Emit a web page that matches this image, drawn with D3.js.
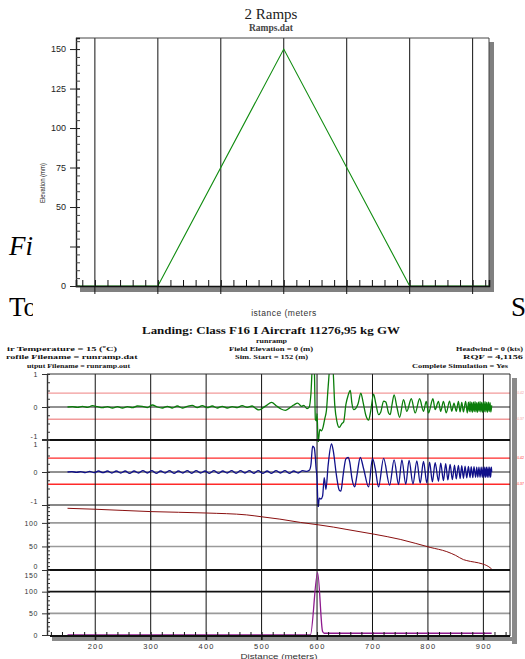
<!DOCTYPE html>
<html>
<head>
<meta charset="utf-8">
<script src="https://cdn.jsdelivr.net/npm/d3@7/dist/d3.min.js"></script>
<style>
  body { margin: 0; background: #fff; }
  svg { display: block; }
</style>
</head>
<body>
<script>
// ---------- data ----------

// upper chart: ramp profile (distance m, elevation mm)
var rampDist = [-15, 50, 150, 250, 313];
var rampElev = [0, 0, 150, 0, 0];
var rampGrid = [0, 50, 100, 150, 200, 250, 300];
var rampYTicks = [0, 25, 50, 75, 100, 125, 150];
var rampYLabels = [0, 50, 75, 100, 125, 150];

// lower chart: landing simulation, distance in metres
var distTicks = [200, 300, 400, 500, 600, 700, 800, 900];

// panel 1 (green) – [distance, value]
var greenTrace = [
  [150,0],[159,0.01],[168,-0.01],[177,0.02],[186,-0.01],[195,0.04],[204,0.01],[213,-0.02],
  [222,0.01],[231,-0.03],[240,0.01],[249,-0.03],[258,0.01],[267,-0.02],[276,0.03],[285,0.02],
  [294,-0.02],[303,0.06],[312,0],[321,-0.03],[330,0.02],[339,-0.03],[348,0.03],[357,-0.03],
  [366,0.02],[375,0.05],[384,-0.02],[393,0.04],[402,-0.02],[411,0.03],[420,-0.03],[429,0.02],
  [438,-0.03],[447,0.01],[456,-0.02],[465,0.04],[474,-0.01],[483,0.03],[490,-0.05],[495,-0.09],
  [503,-0.02],[509,0.05],[518,0.14],[527,0.03],[535,-0.06],[543,-0.1],[551,-0.02],[558,0.06],
  [565,0.12],[572,0.02],[576,0.05],[582,-0.05],[586,0],[589,0.4],[592,1.3],[595,1.2],
  [597,-0.38],[599,-0.42],[600,-0.2],[602,-1.08],[605,-0.68],[608,-0.72],[611,-0.6],[614,-0.35],
  [617,-0.1],[620,0.6],[624,1.3],[628,1.3],[632,0.05],[636,-0.45],[640,-0.62],[645,-0.5],
  [648,-0.45],[652,0.07],[656,0.35],[660,0.5],[663,0.1],[666,-0.08],[670,-0.04],[674,0.1],
  [679,0.42],[683,0.15],[688,-0.25],[693,-0.4],[697,-0.1],[702,0.39],[706,0.1],[711,-0.23],
  [715,-0.15],[720,0.18],[724,0.15],[729,-0.18],[732,-0.23],[735,0.05],[739,0.37],[744,0],
  [749,-0.31],[756,0.22],[762,-0.13],[770,0.25],[777,-0.18],[785,0.25],[792,-0.13],[797,0.17],
  [801,-0.18],[809,0.25],[813,-0.08],[819,0.17],[823,-0.13],[828,0.17],[833,-0.18],[839,0.18],
  [843,-0.13],[847,0.12],[851,-0.13],[855,0.17],[858,-0.15],[861,0.14],[864,-0.15],[868,0.17],
  [871,-0.18],[873,0.15],[874.5,-0.14],[876,0.16],[877.5,-0.15],[879,0.14],[880.5,-0.16],
  [882,0.15],[883.5,-0.14],[885,0.16],[886.5,-0.15],[888,0.13],[889.5,-0.16],[891,0.15],
  [892.5,-0.13],[894,0.16],[895.5,-0.15],[897,0.14],[898.5,-0.16],[900,0.15],[901.5,-0.14],
  [903,0.16],[904.5,-0.15],[906,0.14],[907.5,-0.16],[909,0.15],[910.5,-0.14],[912,0.13],
  [913.5,-0.15],[915,0.05]
];

// panel 2 (blue)
var blueTrace = [
  [150,0],[158,0.01],[166,-0.01],[174,0.01],[182,-0.02],[190,0.02],[198,-0.02],[206,0.03],
  [214,-0.02],[222,0.03],[230,-0.03],[238,0.03],[246,-0.03],[254,0.03],[262,-0.04],[270,0.03],
  [278,-0.03],[286,0.04],[294,-0.03],[302,0.04],[310,-0.04],[318,0.03],[326,-0.03],[334,0.04],
  [342,-0.04],[350,0.03],[358,-0.03],[366,0.04],[374,-0.04],[382,0.04],[390,-0.03],[398,0.03],
  [406,-0.04],[414,0.04],[422,-0.04],[430,0.03],[438,-0.03],[446,0.04],[454,-0.04],[462,0.04],
  [470,-0.03],[478,0.04],[486,-0.04],[494,0.04],[502,-0.04],[510,0.03],[518,-0.04],[526,0.04],
  [534,-0.03],[542,0.04],[550,-0.04],[558,0.03],[566,-0.03],[574,0.04],[582,0.02],
  [586,0.05],[589,0.22],[592,0.78],[595,0.73],[597,0.42],[598,0.17],[600,-0.2],[602,-1.09],
  [604,-0.79],[607,-0.82],[610,-0.73],[613,-0.17],[616,-0.53],[620,0.2],[626,0.85],[629,0.67],
  [635,-0.1],[640,-0.55],[643,-0.58],[647,-0.1],[652,0.4],[656,0.44],[659,0.3],[663,-0.2],
  [668,-0.45],[672,-0.1],[678,0.44],[684,0.1],[693,-0.45],[700,0.41],[705,0.1],[711,-0.45],
  [720,0.41],[731,-0.4],[739,0.37],[747,-0.38],[753,0.37],[760,-0.37],[766,0.35],[773,-0.36],
  [780,0.34],[786,-0.34],[792,0.32],[798,-0.33],[803,0.3],[808,-0.3],[813,0.28],[819,-0.28],
  [823,0.27],[828,-0.26],[832,0.25],[836,-0.24],[840,0.23],[844,-0.23],[848,0.21],[851,-0.21],
  [855,0.2],[858,-0.2],[861,0.19],[864,-0.19],[867,0.18],[870,-0.18],[873,0.17],[876,-0.17],
  [878,0.16],[881,-0.17],[883,0.16],[886,-0.16],[888,0.15],[890,-0.16],[892,0.15],[894,-0.16],
  [896,0.15],[898,-0.16],[899.5,0.15],[901,-0.16],[902.5,0.15],[904,-0.16],[905.5,0.15],
  [907,-0.16],[908.5,0.15],[910,-0.16],[911.5,0.15],[913,-0.16],[914.5,0.15],[915,0]
];

// panel 3 (dark red) – speed
var speedTrace = [
  [150,131],[200,129],[300,124],[400,121],[473,117],[500,113],[533,108],[570,101],[602,96],
  [630,91],[654,86],[703,76],[750,65],[804,48],[834,39],[850,31],[864,22],[870,20],[898,13],
  [905,10],[912,5],[915,2]
];

// panel 4 (purple) – elevation under the wheels
var elevTrace = [[150,0],[588,0],[601,144],[610,8],[613,4],[915,4]];

// threshold lines in panels 1 and 2
var limitHi = 0.42, limitLo = -0.37;

// header texts
var titleLow = "Landing: Class F16 I Aircraft 11276,95 kg GW";
var headLeft = ["ir Temperature = 15 (\u00BAC)", "rofile Filename = runramp.dat", "utput Filename = runramp.out"];
var headMid = ["runramp", "Field Elevation = 0 (m)", "Sim. Start = 152 (m)"];
var headRight = ["Headwind = 0 (kts)", "RQF = 4,1156", "Complete Simulation = Yes"];

// ---------- page ----------
var W = 525, H = 659;
var serif = "'Liberation Serif', 'Times New Roman', serif";
var sans = "'Liberation Sans', Arial, sans-serif";

var svg = d3.select('body').append('svg')
    .attr('width', W)
    .attr('height', H);

var defs = svg.append('defs');

// document text peeking out behind the chart images
defs.append('clipPath').attr('id', 'docClip')
  .append('rect').attr('x', 0).attr('y', 0).attr('width', 33).attr('height', H);

var doc = svg.append('g').attr('clip-path', 'url(#docClip)');
doc.append('text').attr('x', 9).attr('y', 255)
    .style('font-family', serif).style('font-style', 'italic').style('font-size', '27px')
    .text('Fi');
doc.append('text').attr('x', 9).attr('y', 316)
    .style('font-family', serif).style('font-size', '27px')
    .text('To');
svg.append('text').attr('x', 511).attr('y', 316)
    .style('font-family', serif).style('font-size', '27px')
    .text('S');

// ================= upper chart: 2 Ramps =================
var rb = {left: 76, right: 489, top: 38, bottom: 286};

var xR = d3.scaleLinear().domain([-15, 313]).range([rb.left, rb.right]);
var yR = d3.scaleLinear().domain([0, 157]).range([rb.bottom, rb.top]);

var up = svg.append('g');

// drop shadow
up.append('rect').attr('x', rb.right).attr('y', rb.top + 4)
    .attr('width', 5).attr('height', rb.bottom - rb.top + 2).attr('fill', '#808080');
up.append('rect').attr('x', rb.left + 4).attr('y', rb.bottom)
    .attr('width', rb.right - rb.left + 1).attr('height', 6).attr('fill', '#808080');

// vertical grid
up.append('g').selectAll('line')
    .data(rampGrid)
    .enter()
    .append('line')
    .attr('x1', function(d) { return xR(d); })
    .attr('x2', function(d) { return xR(d); })
    .attr('y1', rb.top)
    .attr('y2', rb.bottom + 8)
    .attr('stroke', '#111')
    .attr('stroke-width', 1);

// frame top / right
up.append('line').attr('x1', rb.left).attr('x2', rb.right).attr('y1', rb.top).attr('y2', rb.top)
    .attr('stroke', '#444');
up.append('line').attr('x1', rb.right).attr('x2', rb.right).attr('y1', rb.top).attr('y2', rb.bottom)
    .attr('stroke', '#444');

// the ramp
var rampLine = d3.line()
    .x(function(d, i) { return xR(rampDist[i]); })
    .y(function(d) { return yR(d); });

up.append('path')
    .datum(rampElev)
    .attr('d', rampLine)
    .attr('fill', 'none')
    .attr('stroke', '#108c10')
    .attr('stroke-width', 1.1);

// x axis: minor ticks pointing up
up.append('g')
    .attr('transform', 'translate(0,' + rb.bottom + ')')
    .call(d3.axisTop(xR).tickValues(d3.range(-10, 313, 10)).tickSize(6).tickFormat(''))
    .call(function(g) {
        g.select('.domain').attr('stroke', '#111').attr('stroke-width', 1.6);
        g.selectAll('.tick line').attr('stroke', '#111');
    });

// y axis
up.append('g')
    .attr('transform', 'translate(' + rb.left + ',0)')
    .call(d3.axisRight(yR).tickValues(d3.range(0, 158, 5)).tickSize(4).tickFormat(''))
    .call(function(g) {
        g.select('.domain').attr('stroke', '#222').attr('stroke-width', 1.4);
        g.selectAll('.tick line').attr('stroke', '#444');
    });

up.append('g')
    .attr('transform', 'translate(' + rb.left + ',0)')
    .call(d3.axisLeft(yR).tickValues(rampYTicks).tickSize(6).tickSizeOuter(0)
        .tickFormat(function(d) { return rampYLabels.indexOf(d) >= 0 ? d : ''; }))
    .call(function(g) {
        g.select('.domain').remove();
        g.selectAll('.tick line').attr('stroke', '#222').attr('x2', -6).attr('x1', 4);
        g.selectAll('.tick text')
            .attr('x', -10)
            .style('font-family', sans)
            .style('font-size', '9px')
            .style('fill', '#222');
    });

// titles
up.append('text').attr('x', 271).attr('y', 18.5).attr('text-anchor', 'middle')
    .style('font-family', serif).style('font-size', '15px').style('fill', '#222')
    .text('2 Ramps');
up.append('text').attr('x', 271).attr('y', 30.5).attr('text-anchor', 'middle')
    .style('font-family', serif).style('font-size', '9.5px').style('font-weight', 'bold').style('fill', '#444')
    .text('Ramps.dat');

up.append('text')
    .attr('transform', 'translate(45,183) rotate(-90)')
    .attr('text-anchor', 'middle')
    .attr('textLength', 40).attr('lengthAdjust', 'spacingAndGlyphs')
    .style('font-family', sans).style('font-size', '8px').style('fill', '#222')
    .text('Elevation (mm)');

up.append('text').attr('x', 284).attr('y', 316).attr('text-anchor', 'middle')
    .style('font-family', sans).style('font-size', '8.5px').style('fill', '#333')
    .style('letter-spacing', '0.5px')
    .text('istance (meters');

// ================= lower chart: landing simulation =================
var lb = {left: 47, right: 510, top: 374, bottom: 636};
var x = d3.scaleLinear().domain([113, 948]).range([lb.left, lb.right]);

var low = svg.append('g');

// title block
low.append('text').attr('x', 271).attr('y', 334).attr('text-anchor', 'middle')
    .attr('textLength', 258).attr('lengthAdjust', 'spacingAndGlyphs')
    .style('font-family', serif).style('font-weight', 'bold').style('font-size', '11px').style('fill', '#111')
    .text(titleLow);

var headFont = function(sel) {
    sel.style('font-family', serif).style('font-weight', 'bold')
       .style('font-size', '7px').style('fill', '#111')
       .attr('lengthAdjust', 'spacingAndGlyphs');
};
var leftX = [7, 6, 27], leftW = [110, 131.5, 103];
var midX = [256, 229, 235], midW = [31, 84, 73];
var rightX = [456, 463, 412], rightW = [67, 60, 96];
var rowY = [350.5, 359, 367.5];

headLeft.forEach(function(t, i) {
    low.append('text').attr('x', leftX[i]).attr('y', rowY[i]).attr('textLength', leftW[i]).call(headFont).text(t);
});
headMid.forEach(function(t, i) {
    low.append('text').attr('x', midX[i]).attr('y', i === 0 ? 343 : rowY[i - 1])
        .attr('textLength', midW[i]).call(headFont).text(t);
});
headRight.forEach(function(t, i) {
    low.append('text').attr('x', rightX[i]).attr('y', rowY[i]).attr('textLength', rightW[i]).call(headFont).text(t);
});

// panels
var panels = [
    {y: d3.scaleLinear().domain([-1, 1]).range([440, 374]), grid: [0], minor: 0.25, data: greenTrace, color: '#0a7d0a', width: 1.3, limits: '#f29a9a'},
    {y: d3.scaleLinear().domain([-1, 1]).range([505, 439]), grid: [0], minor: 0.25, data: blueTrace, color: '#10108a', width: 1.3, limits: '#ff2a2a'},
    {y: d3.scaleLinear().domain([0, 138]).range([570, 505]), grid: [50, 100], minor: 50 / 6, data: speedTrace, color: '#8a1010', width: 1, limits: null},
    {y: d3.scaleLinear().domain([0, 150]).range([635, 570]), grid: [50, 100], minor: 10, data: elevTrace, color: '#8e1a8e', width: 1.3, limits: null}
];
var panelTicks = [[-1, 0, 1], [-1, 0, 1], [0, 50, 100], [0, 50, 100, 150]];

// shadow of the lower chart
low.append('rect').attr('x', lb.right + 2).attr('y', lb.top + 4)
    .attr('width', 5).attr('height', lb.bottom - lb.top + 4).attr('fill', '#8a8a8a');
low.append('rect').attr('x', lb.left + 5).attr('y', lb.bottom + 1)
    .attr('width', lb.right - lb.left + 2).attr('height', 4).attr('fill', '#8a8a8a');

// horizontal grid
panels.forEach(function(p, i) {
    low.append('g').selectAll('line')
        .data(p.grid)
        .enter()
        .append('line')
        .attr('x1', lb.left).attr('x2', lb.right)
        .attr('y1', function(d) { return p.y(d); })
        .attr('y2', function(d) { return p.y(d); })
        .attr('stroke', function(d) {
            if (i === 3 && d === 100) return '#111';
            return i < 2 ? '#222' : '#9a9a9a';
        })
        .attr('stroke-width', i < 2 ? 1 : 1.6);

    if (p.limits) {
        low.append('g').selectAll('line')
            .data([limitHi, limitLo])
            .enter()
            .append('line')
            .attr('x1', lb.left).attr('x2', lb.right)
            .attr('y1', function(d) { return p.y(d); })
            .attr('y2', function(d) { return p.y(d); })
            .attr('stroke', p.limits)
            .attr('stroke-width', 1.4);
        low.append('g').selectAll('text')
            .data([limitHi, limitLo])
            .enter()
            .append('text')
            .attr('x', 524)
            .attr('y', function(d) { return p.y(d) + 1; })
            .attr('text-anchor', 'end')
            .style('font-family', sans).style('font-size', '3.5px').style('fill', p.limits)
            .text(function(d) { return d.toFixed(2); });
    }
});

// vertical grid
low.append('g').selectAll('line')
    .data(distTicks)
    .enter()
    .append('line')
    .attr('x1', function(d) { return x(d); })
    .attr('x2', function(d) { return x(d); })
    .attr('y1', lb.top)
    .attr('y2', lb.bottom + 4)
    .attr('stroke', '#111')
    .attr('stroke-width', 1);

// traces, each clipped to its band
panels.forEach(function(p, i) {
    var r = p.y.range();
    defs.append('clipPath').attr('id', 'band' + i)
        .append('rect')
        .attr('x', lb.left).attr('y', r[1])
        .attr('width', lb.right - lb.left).attr('height', r[0] - r[1] + 2);

    var line = d3.line()
        .curve(d3.curveMonotoneX)
        .x(function(d) { return x(d[0]); })
        .y(function(d) { return p.y(d[1]); });

    low.append('path')
        .datum(p.data)
        .attr('clip-path', 'url(#band' + i + ')')
        .attr('d', line)
        .attr('fill', 'none')
        .attr('stroke', p.color)
        .attr('stroke-width', p.width)
        .attr('stroke-linejoin', 'round');
});

// frame: top, right, panel separators
low.append('line').attr('x1', lb.left).attr('x2', lb.right).attr('y1', lb.top).attr('y2', lb.top)
    .attr('stroke', '#333').attr('stroke-width', 1.2);
low.append('line').attr('x1', lb.right).attr('x2', lb.right).attr('y1', lb.top).attr('y2', lb.bottom)
    .attr('stroke', '#222').attr('stroke-width', 1);
[panels[0].y(-1), panels[1].y(-1), panels[2].y(0)].forEach(function(yy, i) {
    low.append('line').attr('x1', lb.left).attr('x2', lb.right).attr('y1', yy).attr('y2', yy)
        .attr('stroke', '#111').attr('stroke-width', i === 1 ? 1.2 : 2);
});

// left axis for each panel
panels.forEach(function(p, i) {
    var dom = p.y.domain();
    var g = low.append('g').attr('transform', 'translate(' + lb.left + ',0)');

    g.append('g')
        .call(d3.axisRight(p.y).tickValues(d3.range(dom[0], dom[1] + 1e-6, p.minor)).tickSize(3).tickFormat(''))
        .call(function(s) {
            s.select('.domain').remove();
            s.selectAll('.tick line').attr('stroke', '#333');
        });

    g.append('g')
        .call(d3.axisLeft(p.y).tickValues(panelTicks[i]).tickSize(5).tickSizeOuter(0)
            .tickFormat(function(d) { return String(d); }))
        .call(function(s) {
            s.select('.domain').attr('stroke', '#333').attr('stroke-width', 1.4);
            s.selectAll('.tick line').attr('stroke', '#333').attr('x1', 3);
            s.selectAll('.tick text')
                .attr('x', -9)
                .attr('dy', function(d) {
                    if (i > 0 && d === dom[1]) return '1.1em';
                    if (d === dom[0] && i < 3) return '-0.15em';
                    return '0.32em';
                })
                .style('font-family', sans)
                .style('font-size', '7px')
                .style('fill', '#333')
                .style('letter-spacing', '0.6px');
        });
});

// distance axis
low.append('g')
    .attr('transform', 'translate(0,' + lb.bottom + ')')
    .call(d3.axisTop(x).tickValues(d3.range(120, 948, 20)).tickSize(4).tickFormat(''))
    .call(function(g) {
        g.select('.domain').remove();
        g.selectAll('.tick line').attr('stroke', '#111');
    });

low.append('g')
    .attr('transform', 'translate(0,' + lb.bottom + ')')
    .call(d3.axisBottom(x).tickValues(distTicks).tickSize(4).tickSizeOuter(0))
    .call(function(g) {
        g.select('.domain').attr('stroke', '#111').attr('stroke-width', 1.8)
            .attr('d', 'M' + (lb.left + 3) + ',0H' + lb.right);
        g.selectAll('.tick line').attr('stroke', '#111');
        g.selectAll('.tick text')
            .attr('y', 7.5)
            .style('font-family', sans)
            .style('font-size', '7.5px')
            .style('fill', '#333')
            .style('letter-spacing', '1.2px');
    });

low.append('text').attr('x', 279).attr('y', 658.5).attr('text-anchor', 'middle')
    .attr('textLength', 77).attr('lengthAdjust', 'spacingAndGlyphs')
    .style('font-family', sans).style('font-size', '7.5px').style('fill', '#333')
    .text('Distance (meters)');
</script>
</body>
</html>
